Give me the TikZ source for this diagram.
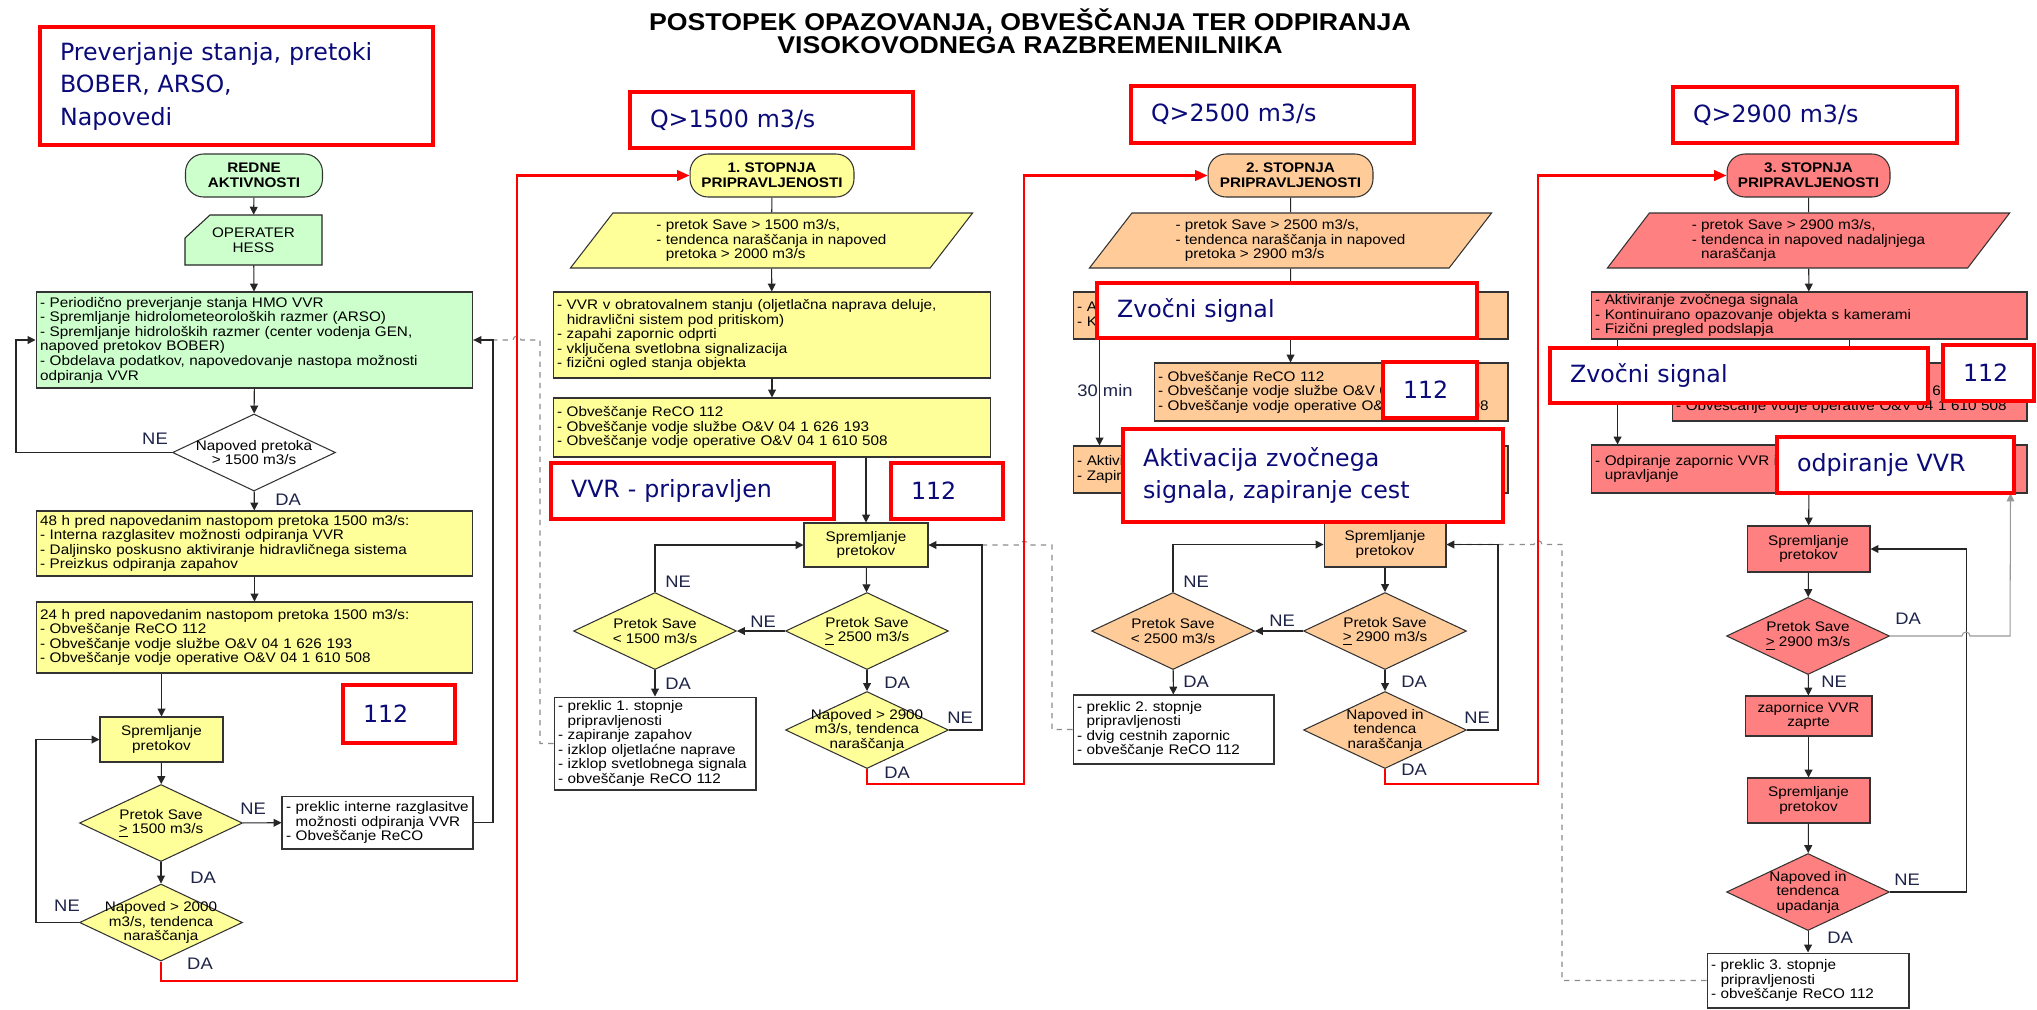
\documentclass[tikz,border=0pt]{standalone}
\usepackage{fontspec}
\setmainfont{Liberation Sans}[FakeStretch=1.1]
\newfontfamily\notefont{DejaVu Sans}
\usetikzlibrary{arrows.meta,shapes.geometric}
\frenchspacing

\definecolor{greenbox}{HTML}{CCFFCC}
\definecolor{yellowbox}{HTML}{FFFF99}
\definecolor{orangebox}{HTML}{FFCC99}
\definecolor{redbox}{HTML}{FF8080}
\definecolor{notetext}{HTML}{0A0A78}
\definecolor{labeltext}{HTML}{1E2448}

\begin{document}
\begin{tikzpicture}[x=0.02cm, y=-0.02cm,
    flow/.style={font=\fontsize{7.9}{8.3}\selectfont},
    box/.style={flow, draw=black!80, line width=0.6pt, inner xsep=0.08cm, inner ysep=0pt, align=left},
    sprem/.style={box, align=center, minimum width=2.46cm, minimum height=0.9cm},
    dec/.style={flow, draw=black!80, line width=0.6pt, diamond, inner sep=-1cm, align=center, minimum width=3.26cm, minimum height=1.54cm},
    term/.style={draw=black!80, line width=0.6pt, rounded corners=0.36cm, align=center, minimum height=0.86cm, font=\fontsize{7.9}{8.6}\selectfont\bfseries},
    data/.style={flow, draw=black!80, line width=0.6pt, trapezium, trapezium left angle=59, trapezium right angle=121, trapezium stretches, minimum width=8.06cm, minimum height=1.1cm, align=left},
    note/.style={draw=red, line width=2.6pt, fill=white, text=notetext, font=\notefont\fontsize{13.5}{18.5}\selectfont, align=left, inner xsep=0.4cm, inner ysep=0pt},
    lbl/.style={text=labeltext, font=\fontsize{9.5}{10}\selectfont, inner sep=0pt},
    link/.style={draw=black!85, line width=0.6pt},
    arr/.style={link, -{Triangle[length=4.5pt,width=4.5pt]}},
    redline/.style={draw=red, line width=1.2pt, -{Triangle[length=7pt,width=6pt]}},
    back/.style={draw=black!45, line width=0.6pt, dashed}]

  \fill[white] (0,0) rectangle (2037,1009);
  \useasboundingbox (0,0) rectangle (2037,1009);

  \node[font=\fontsize{13.8}{13.1}\selectfont\bfseries, align=center] (title) at (1030,31)
    {POSTOPEK OPAZOVANJA, OBVEŠČANJA TER ODPIRANJA\\VISOKOVODNEGA RAZBREMENILNIKA};

  % redne aktivnosti
  \node[term, fill=greenbox, minimum width=2.74cm] (redne) at (254,175.5) {REDNE\\AKTIVNOSTI};
  \draw[link, fill=greenbox] (185,265) -- (185,238) -- (210,215) -- (322,215) -- (322,265) -- cycle;
  \node[flow, align=center, minimum width=2.74cm, minimum height=1cm] (hess) at (253.5,240) {OPERATER\\HESS};
  \node[box, fill=greenbox, text width=8.58cm, minimum height=1.92cm] (green) at (254.5,340)
    {- Periodično preverjanje stanja HMO VVR\\
     - Spremljanje hidrolometeoroloških razmer (ARSO)\\
     - Spremljanje hidroloških razmer (center vodenja GEN,\\
     napoved pretokov BOBER)\\
     - Obdelava podatkov, napovedovanje nastopa možnosti\\
     odpiranja VVR};
  \node[dec, fill=white] (dia1) at (254,452.5) {Napoved pretoka\\> 1500 m3/s};
  \node[box, fill=yellowbox, text width=8.58cm, minimum height=1.3cm] (box48) at (254.5,543.5)
    {48 h pred napovedanim nastopom pretoka 1500 m3/s:\\
     - Interna razglasitev možnosti odpiranja VVR\\
     - Daljinsko poskusno aktiviranje hidravličnega sistema\\
     - Preizkus odpiranja zapahov};
  \node[box, fill=yellowbox, text width=8.58cm, minimum height=1.42cm] (box24) at (254.5,637.5)
    {24 h pred napovedanim nastopom pretoka 1500 m3/s:\\
     - Obveščanje ReCO 112\\
     - Obveščanje vodje službe O\&V 04 1 626 193\\
     - Obveščanje vodje operative O\&V 04 1 610 508};
  \node[sprem, fill=yellowbox] (sprem1) at (161.5,739.5) {Spremljanje\\pretokov};
  \node[dec, fill=yellowbox] (dia2) at (161,823) {Pretok Save\\\underline{>} 1500 m3/s};
  \node[box, fill=white, text width=3.66cm, minimum height=1.06cm] (preklic0) at (377.5,822.5)
    {- preklic interne razglasitve\\\hphantom{- }možnosti odpiranja VVR\\- Obveščanje ReCO};
  \node[dec, fill=yellowbox] (dia3) at (161,922.5) {Napoved > 2000\\m3/s, tendenca\\naraščanja};

  % 1. stopnja
  \node[term, fill=yellowbox, minimum width=3.28cm] (st1) at (772,175.5) {1. STOPNJA\\PRIPRAVLJENOSTI};
  \node[data, fill=yellowbox] (par1) at (771.5,240.5)
    {- pretok Save > 1500 m3/s,\\- tendenca naraščanja in napoved\\\hphantom{- }pretoka > 2000 m3/s};
  \node[box, fill=yellowbox, text width=8.6cm, minimum height=1.72cm] (vvr) at (772,335)
    {- VVR v obratovalnem stanju (oljetlačna naprava deluje,\\
     \hphantom{- }hidravlični sistem pod pritiskom)\\
     - zapahi zapornic odprti\\
     - vključena svetlobna signalizacija\\
     - fizični ogled stanja objekta};
  \node[box, fill=yellowbox, text width=8.6cm, minimum height=1.18cm] (obv1) at (772,427.5)
    {- Obveščanje ReCO 112\\
     - Obveščanje vodje službe O\&V 04 1 626 193\\
     - Obveščanje vodje operative O\&V 04 1 610 508};
  \node[sprem, fill=yellowbox, minimum width=2.48cm, minimum height=0.88cm] (sprem2) at (866,545) {Spremljanje\\pretokov};
  \node[dec, fill=yellowbox] (dia4) at (867,631) {Pretok Save\\\underline{>} 2500 m3/s};
  \node[dec, fill=yellowbox] (dia5) at (655,631) {Pretok Save\\< 1500 m3/s};
  \node[box, fill=white, text width=3.88cm, minimum height=1.86cm] (preklic1) at (655,743.5)
    {- preklic 1. stopnje\\\hphantom{- }pripravljenosti\\- zapiranje zapahov\\- izklop oljetlaćne naprave\\- izklop svetlobnega signala\\- obveščanje ReCO 112};
  \node[dec, fill=yellowbox] (dia6) at (867,730) {Napoved > 2900\\m3/s, tendenca\\naraščanja};

  % 2. stopnja
  \node[term, fill=orangebox, minimum width=3.3cm] (st2) at (1290.5,175.5) {2. STOPNJA\\PRIPRAVLJENOSTI};
  \node[data, fill=orangebox] (par2) at (1290.5,240.5)
    {- pretok Save > 2500 m3/s,\\- tendenca naraščanja in napoved\\\hphantom{- }pretoka > 2900 m3/s};
  \node[box, fill=orangebox, text width=8.54cm, minimum height=0.94cm] (akt2) at (1290.5,315.5)
    {- Aktiviranje zvočnega signala\\- Kontinuirano opazovanje objekta s kamerami};
  \node[box, fill=orangebox, text width=6.92cm, minimum height=1.16cm] (obv2) at (1331,392)
    {- Obveščanje ReCO 112\\
     - Obveščanje vodje službe O\&V 04 1 626 193\\
     - Obveščanje vodje operative O\&V 04 1 610 508};
  \node[box, fill=orangebox, text width=8.54cm, minimum height=0.94cm] (akt3) at (1290.5,469.5)
    {- Aktiviranje zvočnega signala\\- Zapiranje cest};
  \node[sprem, fill=orangebox, minimum width=2.44cm] (sprem3) at (1385,544.5) {Spremljanje\\pretokov};
  \node[dec, fill=orangebox] (dia7) at (1385,631) {Pretok Save\\\underline{>} 2900 m3/s};
  \node[dec, fill=orangebox] (dia8) at (1173,631) {Pretok Save\\< 2500 m3/s};
  \node[box, fill=white, text width=3.86cm, minimum height=1.38cm] (preklic2) at (1173.5,729.5)
    {- preklic 2. stopnje\\\hphantom{- }pripravljenosti\\- dvig cestnih zapornic\\- obveščanje ReCO 112};
  \node[dec, fill=orangebox] (dia9) at (1385,730) {Napoved in\\tendenca\\naraščanja};

  % 3. stopnja
  \node[term, fill=redbox, minimum width=3.26cm] (st3) at (1808.5,175.5) {3. STOPNJA\\PRIPRAVLJENOSTI};
  \node[data, fill=redbox] (par3) at (1808.5,240.5)
    {- pretok Save > 2900 m3/s,\\- tendenca in napoved nadaljnjega\\\hphantom{- }naraščanja};
  \node[box, fill=redbox, text width=8.56cm, minimum height=0.94cm] (akt4) at (1809,315.5)
    {- Aktiviranje zvočnega signala\\- Kontinuirano opazovanje objekta s kamerami\\- Fizični pregled podslapja};
  \node[box, fill=redbox, text width=6.94cm, minimum height=1.16cm] (obv4) at (1849.5,392)
    {- Obveščanje ReCO 112\\
     - Obveščanje vodje službe O\&V 04 1 626 193\\
     - Obveščanje vodje operative O\&V 04 1 610 508};
  \node[box, fill=redbox, text width=8.56cm, minimum height=0.96cm] (odp4) at (1809,469)
    {- Odpiranje zapornic VVR in ročno ali daljinsko\\\hphantom{- }upravljanje};
  \node[sprem, fill=redbox, minimum height=0.92cm] (sprem4) at (1808.5,549) {Spremljanje\\pretokov};
  \node[dec, fill=redbox] (dia10) at (1808,636) {Pretok Save\\\underline{>} 2900 m3/s};
  \node[sprem, fill=redbox, minimum width=2.54cm, minimum height=0.8cm] (zap4) at (1808.5,716) {zapornice VVR\\zaprte};
  \node[sprem, fill=redbox] (sprem5) at (1808.5,800.5) {Spremljanje\\pretokov};
  \node[dec, fill=redbox] (dia11) at (1808,892) {Napoved in\\tendenca\\upadanja};
  \node[box, fill=white, text width=3.88cm, minimum height=1.1cm] (preklic3) at (1808,980.5)
    {- preklic 3. stopnje\\\hphantom{- }pripravljenosti\\- obveščanje ReCO 112};

  % povratne crtkane povezave
  \draw[back] (preklic1.west) -- (540,743.5) |- (521,340) arc[start angle=0, end angle=180, radius=0.08cm] -- (green.east);
  \draw[back] (preklic2.west) -- (1052,729.5) |- (1028,545) arc[start angle=0, end angle=180, radius=0.08cm] -- (sprem2.east);
  \draw[back] (preklic3.west) -- (1562,980.5) |- (1542,544.5) arc[start angle=0, end angle=180, radius=0.08cm] -- (sprem3.east);

  \draw[arr] (redne) -- (hess);
  \draw[arr] (hess) -- (green);
  \draw[arr] (green) -- (dia1);
  \draw[arr] (dia1) -- (box48);
  \draw[arr] (box48) -- (box24);
  \draw[arr] (sprem1.north |- box24.south) -- (sprem1.north);
  \draw[arr] (sprem1) -- (dia2);
  \draw[arr] (dia2) -- (preklic0);
  \draw[arr] (dia2) -- (dia3);
  \draw[arr] (dia1.west) -- (16,452.5) |- (green.west);
  \draw[arr] (dia3.west) -- (36,922.5) |- (sprem1.west);
  \draw[arr] (preklic0.east) -- (493,822.5) |- (green.east);

  \draw[link] (st1) -- (par1);
  \draw[arr] (par1) -- (vvr);
  \draw[arr] (vvr) -- (obv1);
  \draw[arr] (sprem2.north |- obv1.south) -- (sprem2.north);
  \draw[arr] (sprem2) -- (dia4);
  \draw[arr] (dia4) -- (dia5);
  \draw[arr] (dia4) -- (dia6);
  \draw[arr] (dia5) -- (preklic1);
  \draw[arr] (dia5.north) |- (sprem2.west);
  \draw[arr] (dia6.east) -- (982,730) |- (sprem2.east);

  \draw[link] (st2) -- (par2);
  \draw[link] (par2) -- (akt2);
  \draw[arr] (akt2.south) -- (akt2.south |- obv2.north);
  \draw[arr] ([xshift=0.54cm]akt2.south west) -- ([xshift=0.54cm]akt3.north west);
  \draw[arr] (akt3.south -| sprem3.north) -- (sprem3.north);
  \draw[arr] (sprem3) -- (dia7);
  \draw[arr] (dia7) -- (dia8);
  \draw[arr] (dia7) -- (dia9);
  \draw[arr] (dia8) -- (preklic2);
  \draw[arr] (dia8.north) |- (sprem3.west);
  \draw[arr] (dia9.east) -- (1498,730) |- (sprem3.east);

  \draw[link] (st3) -- (par3);
  \draw[arr] (par3) -- (akt4);
  \draw[arr] (akt4.south -| obv4.north) -- (obv4.north);
  \draw[arr] ([xshift=0.54cm]akt4.south west) -- ([xshift=0.54cm]odp4.north west);
  \draw[arr] (odp4) -- (sprem4);
  \draw[arr] (sprem4) -- (dia10);
  \draw[arr] (dia10) -- (zap4);
  \draw[arr] (zap4) -- (sprem5);
  \draw[arr] (sprem5) -- (dia11);
  \draw[arr] (dia11) -- (preklic3);
  \draw[arr] (dia11.east) -- (1966,892) |- (sprem4.east);
  \draw[arr, draw=black!40] (dia10.east) -- (1962,636) arc[start angle=180, end angle=0, radius=0.08cm]
    -- (2010,636) -- ([xshift=-0.34cm]odp4.south east);

  % prehodi med stopnjami
  \draw[redline] (dia3.south) |- (517,981) |- (st1.west);
  \draw[redline] (dia6.south) |- (1024,784) |- (st2.west);
  \draw[redline] (dia9.south) |- (1538,784) |- (st3.west);

  \node[lbl] (ne1) at (155,439) {NE};
  \node[lbl] (da1) at (288,500) {DA};
  \node[lbl] (ne2) at (253,809) {NE};
  \node[lbl] (da2) at (203,878) {DA};
  \node[lbl] (ne3) at (67,906) {NE};
  \node[lbl] (da3) at (200,964) {DA};
  \node[lbl] (ne4) at (678,582) {NE};
  \node[lbl] (ne5) at (763,622) {NE};
  \node[lbl] (da4) at (678,684) {DA};
  \node[lbl] (da5) at (897,683) {DA};
  \node[lbl] (ne6) at (960,718) {NE};
  \node[lbl] (da6) at (897,773) {DA};
  \node[lbl] (ne7) at (1196,582) {NE};
  \node[lbl] (ne8) at (1282,621) {NE};
  \node[lbl] (da7) at (1196,682) {DA};
  \node[lbl] (da8) at (1414,682) {DA};
  \node[lbl] (ne9) at (1477,718) {NE};
  \node[lbl] (da9) at (1414,770) {DA};
  \node[lbl] (da10) at (1908,619) {DA};
  \node[lbl] (ne10) at (1834,682) {NE};
  \node[lbl] (ne11) at (1907,880) {NE};
  \node[lbl] (da11) at (1840,938) {DA};
  \node[lbl] (min30) at (1105,391) {30 min};

  % rdeci okvirji
  \node[note, text width=7.06cm, minimum height=2.36cm] (nstanje) at (236.5,86) {Preverjanje stanja, pretoki\\BOBER, ARSO,\\Napovedi};
  \node[note, text width=1.44cm, minimum height=1.16cm] (n112a) at (399,714) {112};
  \node[note, text width=4.86cm, minimum height=1.12cm] (nq1) at (771.5,120) {Q>1500 m3/s};
  \node[note, text width=4.86cm, minimum height=1.12cm] (nvvr) at (692.5,491) {VVR - pripravljen};
  \node[note, text width=1.44cm, minimum height=1.12cm] (n112b) at (947,491) {112};
  \node[note, text width=4.86cm, minimum height=1.14cm] (nq2) at (1272.5,114.5) {Q>2500 m3/s};
  \node[note, text width=6.8cm, minimum height=1.1cm] (nzvok2) at (1287,310.5) {Zvočni signal};
  \node[note, text width=1.08cm, minimum height=1.12cm] (n112c) at (1430,390) {112};
  \node[note, text width=6.8cm, minimum height=1.86cm] (naktiv) at (1313,475.5) {Aktivacija zvočnega\\signala, zapiranje cest};
  \node[note, text width=4.88cm, minimum height=1.12cm] (nq3) at (1815,115) {Q>2900 m3/s};
  \node[note, text width=6.76cm, minimum height=1.1cm] (nzvok3) at (1739,375.5) {Zvočni signal};
  \node[note, text width=1.02cm, minimum height=1.12cm] (n112d) at (1988.5,373) {112};
  \node[note, text width=3.94cm, minimum height=1.12cm] (nodpir) at (1895.5,465) {odpiranje VVR};
\end{tikzpicture}
\end{document}
